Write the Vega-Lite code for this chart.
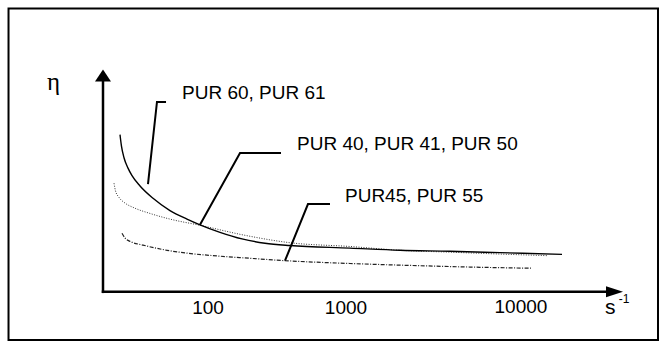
{
  "$schema": "https://vega.github.io/schema/vega-lite/v6.json",
  "width": 666,
  "height": 342,
  "padding": 0,
  "autosize": {"type": "fit", "contains": "padding"},
  "background": "white",
  "config": {"view": {"stroke": null}},
  "datasets": {
    "curves": [
      {"series": "PUR 60, PUR 61", "x": 3.27, "y": 70.85},
      {"series": "PUR 60, PUR 61", "x": 3.56, "y": 65.53},
      {"series": "PUR 60, PUR 61", "x": 4.04, "y": 60.43},
      {"series": "PUR 60, PUR 61", "x": 4.81, "y": 55.74},
      {"series": "PUR 60, PUR 61", "x": 5.58, "y": 52.34},
      {"series": "PUR 60, PUR 61", "x": 7.12, "y": 47.66},
      {"series": "PUR 60, PUR 61", "x": 9.62, "y": 42.13},
      {"series": "PUR 60, PUR 61", "x": 12.88, "y": 36.6},
      {"series": "PUR 60, PUR 61", "x": 16.15, "y": 32.77},
      {"series": "PUR 60, PUR 61", "x": 18.65, "y": 30.21},
      {"series": "PUR 60, PUR 61", "x": 22.5, "y": 26.81},
      {"series": "PUR 60, PUR 61", "x": 26.73, "y": 23.83},
      {"series": "PUR 60, PUR 61", "x": 31.15, "y": 21.91},
      {"series": "PUR 60, PUR 61", "x": 35.96, "y": 20.85},
      {"series": "PUR 60, PUR 61", "x": 47.5, "y": 19.7},
      {"series": "PUR 60, PUR 61", "x": 57.12, "y": 18.72},
      {"series": "PUR 60, PUR 61", "x": 66.73, "y": 18.3},
      {"series": "PUR 60, PUR 61", "x": 76.35, "y": 17.66},
      {"series": "PUR 60, PUR 61", "x": 88.27, "y": 16.89},
      {"series": "PUR 40, PUR 41, PUR 50", "x": 2.12, "y": 48.94},
      {"series": "PUR 40, PUR 41, PUR 50", "x": 2.4, "y": 45.53},
      {"series": "PUR 40, PUR 41, PUR 50", "x": 3.08, "y": 42.55},
      {"series": "PUR 40, PUR 41, PUR 50", "x": 4.23, "y": 40.0},
      {"series": "PUR 40, PUR 41, PUR 50", "x": 5.96, "y": 37.87},
      {"series": "PUR 40, PUR 41, PUR 50", "x": 9.04, "y": 35.32},
      {"series": "PUR 40, PUR 41, PUR 50", "x": 13.27, "y": 32.55},
      {"series": "PUR 40, PUR 41, PUR 50", "x": 18.65, "y": 30.0},
      {"series": "PUR 40, PUR 41, PUR 50", "x": 26.73, "y": 25.74},
      {"series": "PUR 40, PUR 41, PUR 50", "x": 35.96, "y": 22.13},
      {"series": "PUR 40, PUR 41, PUR 50", "x": 47.5, "y": 20.43},
      {"series": "PUR 40, PUR 41, PUR 50", "x": 57.12, "y": 18.72},
      {"series": "PUR 40, PUR 41, PUR 50", "x": 66.73, "y": 17.87},
      {"series": "PUR 40, PUR 41, PUR 50", "x": 76.35, "y": 17.02},
      {"series": "PUR 40, PUR 41, PUR 50", "x": 85.38, "y": 16.3},
      {"series": "PUR45, PUR 55", "x": 3.65, "y": 26.38},
      {"series": "PUR45, PUR 55", "x": 4.23, "y": 24.26},
      {"series": "PUR45, PUR 55", "x": 5.38, "y": 22.55},
      {"series": "PUR45, PUR 55", "x": 7.69, "y": 21.06},
      {"series": "PUR45, PUR 55", "x": 12.31, "y": 18.72},
      {"series": "PUR45, PUR 55", "x": 16.92, "y": 17.23},
      {"series": "PUR45, PUR 55", "x": 21.92, "y": 16.17},
      {"series": "PUR45, PUR 55", "x": 28.27, "y": 15.11},
      {"series": "PUR45, PUR 55", "x": 35.0, "y": 14.04},
      {"series": "PUR45, PUR 55", "x": 47.5, "y": 12.77},
      {"series": "PUR45, PUR 55", "x": 61.92, "y": 11.7},
      {"series": "PUR45, PUR 55", "x": 72.5, "y": 11.06},
      {"series": "PUR45, PUR 55", "x": 82.31, "y": 10.64}
    ],
    "leaders": [
      {"label": "L1", "i": 0, "x": 8.65, "y": 48.51},
      {"label": "L1", "i": 1, "x": 10.38, "y": 85.53},
      {"label": "L1", "i": 2, "x": 12.12, "y": 85.53},
      {"label": "L2", "i": 0, "x": 18.65, "y": 30.21},
      {"label": "L2", "i": 1, "x": 26.35, "y": 62.55},
      {"label": "L2", "i": 2, "x": 34.23, "y": 62.55},
      {"label": "L3", "i": 0, "x": 35.0, "y": 14.04},
      {"label": "L3", "i": 1, "x": 39.42, "y": 39.57},
      {"label": "L3", "i": 2, "x": 43.65, "y": 39.57}
    ],
    "axes": [
      {"axis": "y", "i": 0, "x": 0, "y": 0},
      {"axis": "y", "i": 1, "x": 0, "y": 97.45},
      {"axis": "x", "i": 0, "x": 0, "y": 0},
      {"axis": "x", "i": 1, "x": 97.5, "y": 0}
    ],
    "arrows": [
      {"axis": "y", "x": 0, "y": 97.45},
      {"axis": "x", "x": 98.37, "y": 0}
    ],
    "frame": [
      {"x": -18.17, "x2": 106.73, "y": 127.66, "y2": -21.7}
    ],
    "texts": [
      {"kind": "label", "text": "PUR 60, PUR 61", "x": 15.19, "y": 86.81},
      {"kind": "label", "text": "PUR 40, PUR 41, PUR 50", "x": 37.31, "y": 63.83},
      {"kind": "label", "text": "PUR45, PUR 55", "x": 46.54, "y": 40.64},
      {"kind": "tick", "text": "100", "x": 20.19, "y": -10.21},
      {"kind": "tick", "text": "1000", "x": 46.73, "y": -10.21},
      {"kind": "tick", "text": "10000", "x": 80.38, "y": -9.57},
      {"kind": "eta", "text": "η", "x": -10.77, "y": 91.06},
      {"kind": "unit", "text": "s", "x": 96.54, "y": -9.79},
      {"kind": "sup", "text": "-1", "x": 100.19, "y": -5.11}
    ]
  },
  "encoding": {
    "x": {"field": "x", "type": "quantitative", "axis": null, "scale": {"domain": [-19.8077, 108.2692], "nice": false, "zero": false}},
    "y": {"field": "y", "type": "quantitative", "axis": null, "scale": {"domain": [-14.0426, 131.4894], "nice": false, "zero": false}}
  },
  "layer": [
    {
      "data": {"name": "frame"},
      "mark": {"type": "rect", "filled": false, "stroke": "black", "strokeWidth": 2},
      "encoding": {"x2": {"field": "x2"}, "y2": {"field": "y2"}}
    },
    {
      "data": {"name": "axes"},
      "mark": {"type": "line", "stroke": "black", "strokeWidth": 2.5, "strokeCap": "square"},
      "encoding": {"detail": {"field": "axis"}, "order": {"field": "i"}}
    },
    {
      "data": {"name": "arrows"},
      "transform": [{"filter": "datum.axis === 'y'"}],
      "mark": {"type": "point", "shape": "M0,-1L1.333,1L-1.333,1Z", "size": 144, "filled": true, "fill": "black", "strokeWidth": 0, "opacity": 1},
      "encoding": {}
    },
    {
      "data": {"name": "arrows"},
      "transform": [{"filter": "datum.axis === 'x'"}],
      "mark": {"type": "point", "shape": "M1,0L-1,-0.65L-1,0.65Z", "size": 289, "filled": true, "fill": "black", "strokeWidth": 0, "opacity": 1},
      "encoding": {}
    },
    {
      "data": {"name": "curves"},
      "transform": [{"filter": "datum.series === 'PUR 40, PUR 41, PUR 50'"}],
      "mark": {"type": "line", "stroke": "#333333", "strokeWidth": 1, "strokeDash": [1, 1.5], "interpolate": "monotone"},
      "encoding": {}
    },
    {
      "data": {"name": "curves"},
      "transform": [{"filter": "datum.series === 'PUR45, PUR 55'"}],
      "mark": {"type": "line", "stroke": "#222222", "strokeWidth": 1.2, "strokeDash": [4, 1.5, 1, 1.5], "interpolate": "monotone"},
      "encoding": {}
    },
    {
      "data": {"name": "curves"},
      "transform": [{"filter": "datum.series === 'PUR 60, PUR 61'"}],
      "mark": {"type": "line", "stroke": "black", "strokeWidth": 1.4, "interpolate": "monotone"},
      "encoding": {}
    },
    {
      "data": {"name": "leaders"},
      "mark": {"type": "line", "stroke": "black", "strokeWidth": 2},
      "encoding": {"detail": {"field": "label"}, "order": {"field": "i"}}
    },
    {
      "data": {"name": "texts"},
      "transform": [{"filter": "datum.kind === 'label'"}],
      "mark": {"type": "text", "align": "left", "baseline": "alphabetic", "font": "Liberation Sans", "fontSize": 19, "color": "black"},
      "encoding": {"text": {"field": "text"}}
    },
    {
      "data": {"name": "texts"},
      "transform": [{"filter": "datum.kind === 'tick'"}],
      "mark": {"type": "text", "align": "center", "baseline": "alphabetic", "font": "Liberation Sans", "fontSize": 19, "color": "black"},
      "encoding": {"text": {"field": "text"}}
    },
    {
      "data": {"name": "texts"},
      "transform": [{"filter": "datum.kind === 'eta'"}],
      "mark": {"type": "text", "align": "left", "baseline": "alphabetic", "font": "Liberation Serif", "fontSize": 25, "color": "black"},
      "encoding": {"text": {"field": "text"}}
    },
    {
      "data": {"name": "texts"},
      "transform": [{"filter": "datum.kind === 'unit'"}],
      "mark": {"type": "text", "align": "left", "baseline": "alphabetic", "font": "Liberation Sans", "fontSize": 21, "color": "black"},
      "encoding": {"text": {"field": "text"}}
    },
    {
      "data": {"name": "texts"},
      "transform": [{"filter": "datum.kind === 'sup'"}],
      "mark": {"type": "text", "align": "center", "baseline": "alphabetic", "font": "Liberation Sans", "fontSize": 12, "color": "black"},
      "encoding": {"text": {"field": "text"}}
    }
  ]
}
